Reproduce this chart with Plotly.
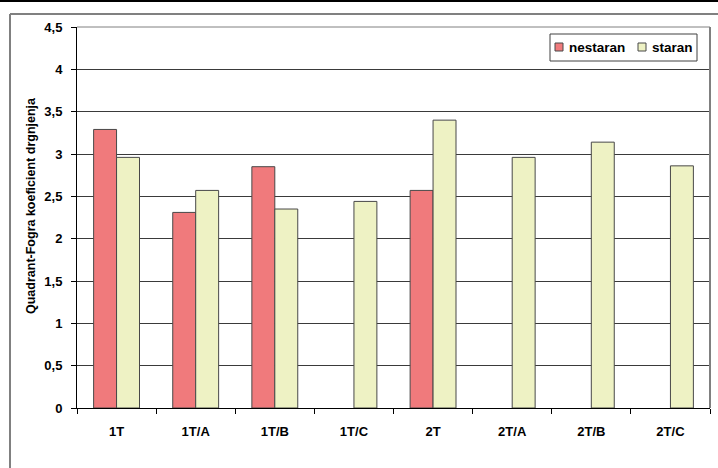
import plotly.graph_objects as go

categories = ["1T", "1T/A", "1T/B", "1T/C", "2T", "2T/A", "2T/B", "2T/C"]
nestaran = [3.29, 2.31, 2.85, None, 2.57, None, None, None]
staran = [2.96, 2.57, 2.35, 2.44, 3.40, 2.96, 3.14, 2.86]
series_names = ["nestaran", "staran"]
series_colors = ["#F07A7C", "#EEF2C4"]
y_tickvals = [0, 0.5, 1, 1.5, 2, 2.5, 3, 3.5, 4, 4.5]
y_ticktext = ["0", "0,5", "1", "1,5", "2", "2,5", "3", "3,5", "4", "4,5"]
y_title = "Quadrant-Fogra koeficient drgnjenja"

W, H = 718, 468
L, R, T, B = 77, 8, 27, 60
pw, ph = W - L - R, H - T - B

def px(x):
    return (x - L) / pw

def py(y):
    return (H - B - y) / ph

font_family = "Liberation Sans, Arial, sans-serif"
outline = "#484848"

fig = go.Figure()
for name, vals, col in zip(series_names, [nestaran, staran], series_colors):
    fig.add_trace(go.Bar(
        name=name, x=categories, y=vals, showlegend=False,
        marker=dict(color=col, line=dict(color=outline, width=1)),
    ))

shapes = [
    dict(type="line", xref="paper", yref="paper", x0=px(0), x1=px(718),
         y0=py(1), y1=py(1), line=dict(color="black", width=2)),
    dict(type="line", xref="paper", yref="paper", x0=px(10), x1=px(10),
         y0=py(14), y1=py(470), line=dict(color="#808080", width=2)),
    dict(type="line", xref="paper", yref="paper", x0=px(10), x1=px(720),
         y0=py(14), y1=py(14), line=dict(color="#808080", width=2)),
    dict(type="line", xref="paper", yref="paper", x0=0, x1=1,
         y0=1, y1=1, line=dict(color="#808080", width=1)),
    dict(type="line", xref="paper", yref="paper", x0=1, x1=1,
         y0=0, y1=1, line=dict(color="#808080", width=2)),
    dict(type="rect", xref="paper", yref="paper", x0=px(550), x1=px(697),
         y0=py(34), y1=py(61), line=dict(color="#404040", width=1),
         fillcolor="white", layer="above"),
]
annotations = [
    dict(text=y_title, textangle=-90, xref="paper", yref="paper",
         x=px(31), y=py(206), showarrow=False, xanchor="center", yanchor="middle",
         font=dict(size=12.5, weight="bold", color="black", family=font_family)),
]
swatch_x = [555, 638]
text_x = [567, 650]
for sx, tx, name, col in zip(swatch_x, text_x, series_names, series_colors):
    shapes.append(dict(type="rect", xref="paper", yref="paper",
                       x0=px(sx), x1=px(sx + 8), y0=py(43), y1=py(51),
                       line=dict(color=outline, width=1), fillcolor=col, layer="above"))
    annotations.append(dict(text=name, xref="paper", yref="paper",
                            x=px(tx), y=py(47.5), xanchor="left", yanchor="middle",
                            showarrow=False,
                            font=dict(size=13.5, weight="bold", color="black",
                                      family=font_family)))

fig.update_layout(
    width=W, height=H,
    margin=dict(l=L, r=R, t=T, b=B, autoexpand=False),
    paper_bgcolor="white", plot_bgcolor="white",
    barmode="group", bargap=0.42, bargroupgap=0,
    font=dict(family=font_family, size=12, color="black", weight="bold"),
    showlegend=False,
    xaxis=dict(
        showline=True, linecolor="black", linewidth=1, automargin=False,
        ticks="outside", ticklen=5, tickcolor="black", tickson="boundaries",
        tickfont=dict(size=13, weight="bold"), ticklabelstandoff=11,
        showgrid=False, zeroline=False,
    ),
    yaxis=dict(
        range=[0, 4.5], tickvals=y_tickvals, ticktext=y_ticktext,
        showline=True, linecolor="black", linewidth=1, automargin=False,
        ticks="outside", ticklen=5, tickcolor="black",
        tickfont=dict(size=13, weight="bold"), ticklabelstandoff=6,
        showgrid=True, gridcolor="#3a3a3a", gridwidth=1, zeroline=False,
    ),
    shapes=shapes,
    annotations=annotations,
)

fig.write_html("out.html", config={"displayModeBar": False},
               post_script="document.body.style.margin='0';")
